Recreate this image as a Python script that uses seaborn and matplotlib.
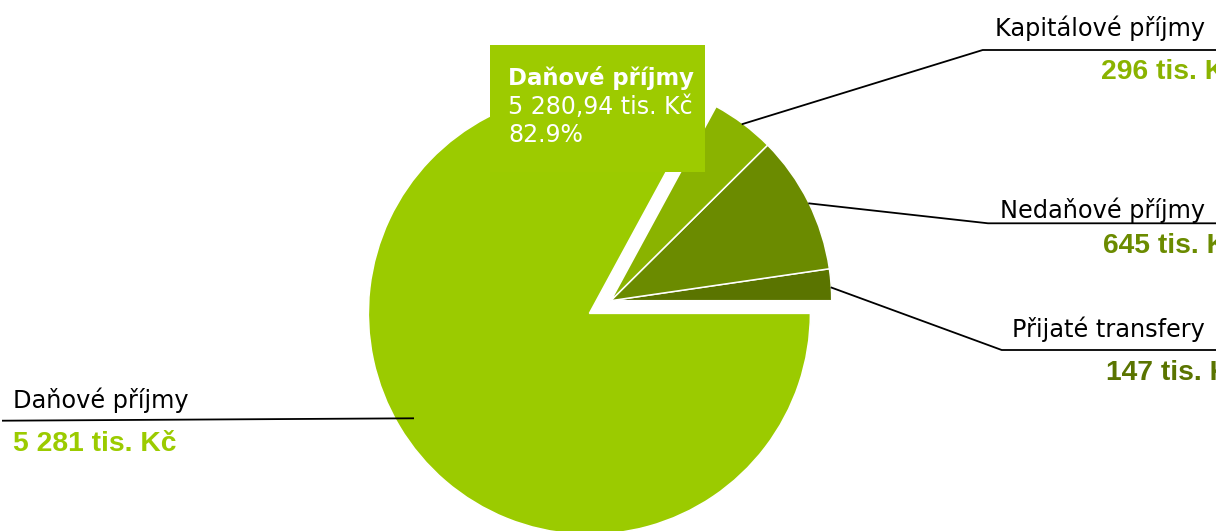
import numpy as np
import matplotlib
matplotlib.use("Agg")
import matplotlib.pyplot as plt
import seaborn as sns

sns.set_theme(style="white")
plt.rcParams['font.family'] = ['DejaVu Sans']

# data (tis. Kč), counter-clockwise from 3 o'clock
categories = ["Přijaté transfery", "Nedaňové příjmy", "Kapitálové příjmy", "Daňové příjmy"]
values = [147, 645, 296, 5280.94]
slice_colors = ["#5a7400", "#6b8b00", "#8ab300", "#9bcb00"]
value_colors = ["#5a7400", "#6b8b00", "#8ab300", "#9bcb00"]

W, H = 1216, 531


def fmt_thousands(v):
    return "{:,}".format(int(round(v))).replace(",", " ")


fig = plt.figure(figsize=(W / 100, H / 100), dpi=100)
ax = fig.add_axes([0, 0, 1, 1])

# pie in pixel coordinates (y flipped); explode is in data units here
cx, cy, r = 610.7, H - 300.7, 221
explode = [0, 0, 0, 24.8]
ax.pie(values, colors=slice_colors, startangle=0, counterclock=True,
       center=(cx, cy), radius=r, explode=explode,
       wedgeprops=dict(edgecolor="white", linewidth=1.1))

ax.set_xlim(0, W)
ax.set_ylim(0, H)
ax.set_aspect("auto")
ax.axis("off")

lw = 1.3
# leader lines: (start at pie, elbow, end)
leaders = {
    "Kapitálové příjmy": [(741.7, 124.3), (982.7, 50.0), (W + 20, 50.0)],
    "Nedaňové příjmy": [(808.3, 203.3), (988.0, 223.3), (W + 20, 223.3)],
    "Přijaté transfery": [(830.7, 287.3), (1001.7, 350.0), (W + 20, 350.0)],
    "Daňové příjmy": [(414.0, 418.3), (2.0, 420.7)],
}
for name, pts in leaders.items():
    xs = [p[0] for p in pts]
    ys = [H - p[1] for p in pts]
    ax.plot(xs, ys, color="black", lw=lw, solid_capstyle="butt", zorder=3)

# label text positions (x, align, label baseline, value x, value baseline)
label_pos = {
    "Kapitálové příjmy": (1205, "right", 35.7, 1101, 79.0),
    "Nedaňové příjmy": (1205, "right", 218.0, 1103, 252.7),
    "Přijaté transfery": (1205, "right", 336.7, 1105.7, 380.0),
    "Daňové příjmy": (12.7, "left", 407.7, 12.7, 451.0),
}
for name, v, vc in zip(categories, values, value_colors):
    lx, lha, ly, vx, vy = label_pos[name]
    ax.text(lx, H - ly, name, fontsize=17.3, color="black", va="baseline", ha=lha,
            family="DejaVu Sans", zorder=4)
    ax.text(vx, H - vy, fmt_thousands(v) + " tis. Kč", fontsize=20.3, fontweight="bold",
            color=vc, va="baseline", ha="left", family="Liberation Sans", zorder=4)

# tooltip for the largest slice
big = values[-1]
pct = big / sum(values) * 100
box = plt.Rectangle((490, H - 172), 215, 127, facecolor="#9dcb00", edgecolor="none", zorder=5)
ax.add_patch(box)
big_txt = "{:,.2f}".format(big).replace(",", " ").replace(".", ",")
ax.text(508, H - 85, categories[-1], fontsize=16.4, fontweight="bold", color="white",
        va="baseline", ha="left", zorder=6)
ax.text(508, H - 114, big_txt + " tis. Kč", fontsize=17, color="white",
        va="baseline", ha="left", zorder=6)
ax.text(508, H - 141.7, "{:.1f}%".format(pct), fontsize=17, color="white",
        va="baseline", ha="left", zorder=6)

fig.savefig("out.png", dpi=100)
